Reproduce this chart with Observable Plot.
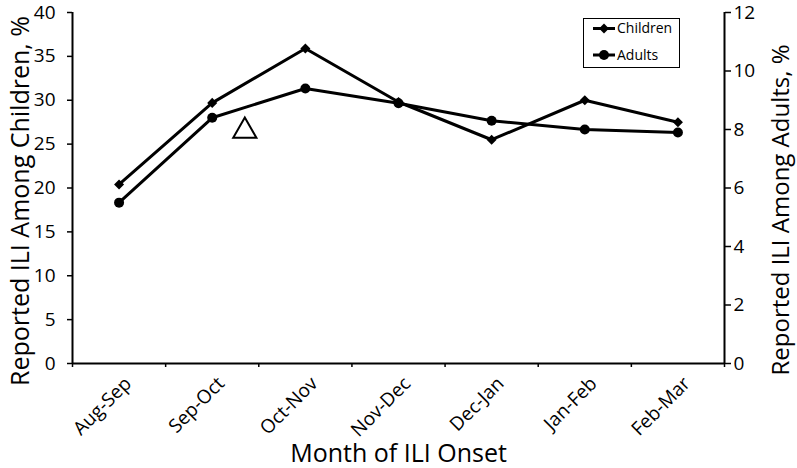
<!DOCTYPE html>
<html>
<head>
<meta charset="utf-8">
<script src="https://cdn.jsdelivr.net/npm/d3@7"></script>
<script src="https://cdn.jsdelivr.net/npm/@observablehq/plot@0.6"></script>
<style>
  body { margin: 0; background: #fff; font-family: "Open Sans", sans-serif; }
  #wrap { position: relative; width: 797px; height: 468px; overflow: hidden; }
  #legend { position: absolute; left: 583px; top: 18px; }
</style>
</head>
<body>
<div id="wrap"></div>
<script>
// ---- data ----
const categories = ["Aug-Sep", "Sep-Oct", "Oct-Nov", "Nov-Dec", "Dec-Jan", "Jan-Feb", "Feb-Mar"];
const children = [20.4, 29.7, 35.9, 29.8, 25.5, 30.0, 27.5];   // left axis, %
const adults   = [5.5, 8.4, 9.4, 8.9, 8.3, 8.0, 7.9];          // right axis, %
const leftTicks  = [0, 5, 10, 15, 20, 25, 30, 35, 40];
const rightTicks = [0, 2, 4, 6, 8, 10, 12];
const seriesNames = ["Children", "Adults"];
const triangleMark = [{pos: 1.85, value: 26.5}]; // Δ annotation (category position, children %)
const xTitle = "Month of ILI Onset";
const yLeftTitle = "Reported ILI Among Children, %";
const yRightTitle = "Reported ILI Among Adults, %";

// ---- build ----
const k = 40 / 12; // adults → children scale
const rows = categories.map((c, i) => ({pos: i + 0.5, cat: c, children: children[i], adults: adults[i] * k}));
const boundaries = d3.range(0, categories.length + 1);
const centers = categories.map((c, i) => i + 0.5);
const font = "'Open Sans', sans-serif";

const chart = Plot.plot({
  width: 797,
  height: 468,
  marginLeft: 72,
  marginRight: 73,
  marginTop: 12,
  marginBottom: 105,
  style: {fontFamily: font, fontSize: "19px", color: "#000", background: "#fff", overflow: "visible"},
  x: {type: "linear", domain: [0, categories.length]},
  y: {domain: [0, 40]},
  marks: [
    Plot.axisY({ticks: leftTicks, tickSize: 5, tickPadding: 12, label: null, fontSize: 19, strokeWidth: 1.5}),
    Plot.axisY({anchor: "right", ticks: rightTicks.map(v => v * k), tickFormat: v => String(Math.round(v / k)),
                tickSize: 6, tickPadding: 3, label: null, fontSize: 19, strokeWidth: 1.5}),
    Plot.axisX({ticks: boundaries, tickFormat: () => "", tickSize: 4, label: null, strokeWidth: 1.5}),
    Plot.axisX({ticks: centers, tickFormat: d => categories[Math.round(d - 0.5)], tickSize: 0,
                tickRotate: -45, tickPadding: 17, dx: 9, label: null, fontSize: 19}),
    Plot.ruleX([0, categories.length], {strokeWidth: 2}),
    Plot.ruleY([0], {strokeWidth: 2}),
    Plot.lineY(rows, {x: "pos", y: "children", stroke: "#000", strokeWidth: 3}),
    Plot.dot(rows, {x: "pos", y: "children", symbol: "square", r: 4, rotate: 45, fill: "#000"}),
    Plot.lineY(rows, {x: "pos", y: "adults", stroke: "#000", strokeWidth: 3}),
    Plot.dot(rows, {x: "pos", y: "adults", r: 5, fill: "#000"}),
    Plot.dot(triangleMark, {x: "pos", y: "value", symbol: "triangle", r: 8.6, fill: "#fff", stroke: "#000", strokeWidth: 2}),
    Plot.text([xTitle], {frameAnchor: "bottom", textAnchor: "middle", lineAnchor: "middle", dy: 90, fontSize: 25, fill: "#000"}),
    Plot.text([yLeftTitle], {frameAnchor: "left", textAnchor: "middle", lineAnchor: "middle", rotate: -90, dx: -52, dy: 13, fontSize: 25, fill: "#000"}),
    Plot.text([yRightTitle], {frameAnchor: "right", textAnchor: "middle", lineAnchor: "middle", rotate: -90, dx: 57, dy: 22, fontSize: 24, fill: "#000"})
  ]
});

const wrap = document.getElementById("wrap");
wrap.appendChild(chart);

// ---- legend ----
const lw = 97, lh = 50;
const leg = d3.create("svg").attr("id", "legend").attr("width", lw).attr("height", lh)
  .style("font-family", font);
leg.append("rect").attr("x", 0.5).attr("y", 0.5).attr("width", lw - 1).attr("height", lh - 1)
  .attr("fill", "#fff").attr("stroke", "#000").attr("stroke-width", 1);
const rowY = [10.5, 37];
seriesNames.forEach((name, i) => {
  const g = leg.append("g").attr("transform", `translate(0,${rowY[i]})`);
  g.append("line").attr("x1", 10).attr("x2", 32).attr("y1", 0).attr("y2", 0).attr("stroke", "#000").attr("stroke-width", 3);
  if (i === 0) {
    g.append("rect").attr("x", -3.5).attr("y", -3.5).attr("width", 7).attr("height", 7)
      .attr("transform", "translate(21,0) rotate(45)").attr("fill", "#000");
  } else {
    g.append("circle").attr("cx", 21).attr("cy", 0).attr("r", 5).attr("fill", "#000");
  }
  g.append("text").attr("x", 34).attr("y", 0).attr("dy", "0.35em").attr("font-size", 14).attr("fill", "#000").text(name);
});
wrap.appendChild(leg.node());
</script>
</body>
</html>
